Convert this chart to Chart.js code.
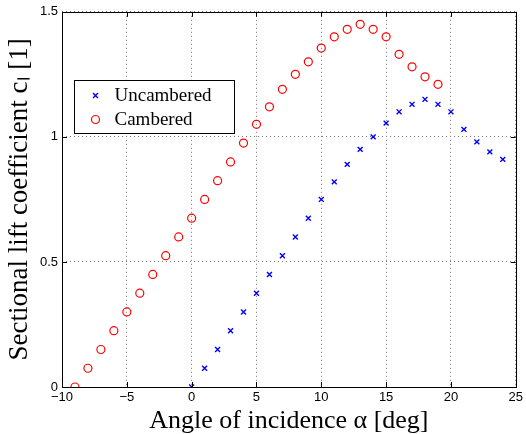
<!DOCTYPE html>
<html>
<head>
<meta charset="utf-8">
<script src="https://cdn.jsdelivr.net/npm/chart.js@4.4.0/dist/chart.umd.min.js"></script>
<style>
  body { margin: 0; background: #fff; }
  #wrap { width: 526px; height: 434px; }
</style>
</head>
<body>
<div id="wrap"><canvas id="liftChart" width="526" height="434"></canvas></div>
<script>
// angle of incidence [deg] and lift coefficient
const alphaUncambered = [0, 1, 2, 3, 4, 5, 6, 7, 8, 9, 10, 11, 12, 13, 14, 15, 16, 17, 18, 19, 20, 21, 22, 23, 24];
const clUncambered = [0, 0.075, 0.15, 0.225, 0.3, 0.375, 0.45, 0.525, 0.6, 0.675, 0.75, 0.82, 0.89, 0.95, 1.0, 1.055, 1.1, 1.13, 1.15, 1.13, 1.1, 1.03, 0.98, 0.94, 0.91];

const alphaCambered = [-9, -8, -7, -6, -5, -4, -3, -2, -1, 0, 1, 2, 3, 4, 5, 6, 7, 8, 9, 10, 11, 12, 13, 14, 15, 16, 17, 18, 19];
const clCambered = [0, 0.075, 0.15, 0.225, 0.3, 0.375, 0.45, 0.525, 0.6, 0.675, 0.75, 0.825, 0.9, 0.975, 1.05, 1.12, 1.19, 1.25, 1.3, 1.355, 1.4, 1.43, 1.45, 1.43, 1.4, 1.33, 1.28, 1.24, 1.21];

const xTicks = [-10, -5, 0, 5, 10, 15, 20, 25];
const yTicks = [0, 0.5, 1, 1.5];

function toPoints(xs, ys) {
    return xs.map((x, i) => ({ x: x, y: ys[i] }));
}

// frame, inward tick marks and legend box (matlab look)
const matlabAxes = {
    id: 'matlabAxes',
    afterDraw(chart) {
        const ctx = chart.ctx;
        const a = chart.chartArea;
        const xs = chart.scales.x, ys = chart.scales.y;
        ctx.save();
        ctx.strokeStyle = '#000';
        ctx.lineWidth = 1;
        ctx.beginPath();
        xTicks.forEach(v => {
            const px = Math.round(xs.getPixelForValue(v)) + 0.5;
            ctx.moveTo(px, a.bottom); ctx.lineTo(px, a.bottom - 5);
            ctx.moveTo(px, a.top); ctx.lineTo(px, a.top + 5);
        });
        yTicks.forEach(v => {
            const py = Math.round(ys.getPixelForValue(v)) + 0.5;
            ctx.moveTo(a.left, py); ctx.lineTo(a.left + 5, py);
            ctx.moveTo(a.right, py); ctx.lineTo(a.right - 5, py);
        });
        ctx.stroke();
        ctx.strokeRect(Math.round(a.left) + 0.5, Math.round(a.top) + 0.5,
                       Math.round(a.right - a.left), Math.round(a.bottom - a.top));

        // legend
        const lx = 74.5, ly = 80.5, lw = 160, lh = 53;
        ctx.fillStyle = '#fff';
        ctx.fillRect(lx, ly, lw, lh);
        ctx.strokeRect(lx, ly, lw, lh);
        ctx.font = '19px "Liberation Serif", serif';
        ctx.textBaseline = 'middle';
        ctx.textAlign = 'left';
        chart.data.datasets.forEach((ds, i) => {
            const cy = ly + 15 + i * 24;
            ctx.strokeStyle = ds.borderColor;
            ctx.lineWidth = ds.borderWidth;
            ctx.beginPath();
            if (ds.pointStyle === 'circle') {
                ctx.arc(lx + 21, cy, ds.pointRadius, 0, Math.PI * 2);
            } else {
                const r = ds.pointRadius * 0.7;
                ctx.moveTo(lx + 21 - r, cy - r); ctx.lineTo(lx + 21 + r, cy + r);
                ctx.moveTo(lx + 21 - r, cy + r); ctx.lineTo(lx + 21 + r, cy - r);
            }
            ctx.stroke();
            ctx.fillStyle = '#000';
            ctx.fillText(ds.label, lx + 40, cy + 1);
        });
        ctx.restore();
    }
};

new Chart(document.getElementById('liftChart'), {
    type: 'scatter',
    data: {
        datasets: [{
            label: 'Uncambered',
            data: toPoints(alphaUncambered, clUncambered),
            pointStyle: 'crossRot',
            pointRadius: 3.5,
            borderColor: '#0000ff',
            backgroundColor: '#0000ff',
            borderWidth: 1.4
        }, {
            label: 'Cambered',
            data: toPoints(alphaCambered, clCambered),
            pointStyle: 'circle',
            pointRadius: 4,
            borderColor: '#ff0000',
            backgroundColor: 'rgba(0,0,0,0)',
            borderWidth: 1.2
        }]
    },
    options: {
        responsive: false,
        animation: false,
        layout: { padding: { top: 10, right: 7, left: 0, bottom: 0 } },
        plugins: {
            legend: { display: false },
            tooltip: { enabled: false }
        },
        scales: {
            x: {
                type: 'linear',
                min: -10,
                max: 25,
                afterBuildTicks: s => { s.ticks = xTicks.map(v => ({ value: v })); },
                afterFit: s => { s.height = 47; },
                ticks: {
                    color: '#000',
                    padding: 3,
                    maxRotation: 0,
                    font: { family: '"Liberation Sans", Arial, sans-serif', size: 13 },
                    callback: v => String(v).replace('-', '\u2212')
                },
                grid: { color: '#777', drawTicks: false, lineWidth: 1 },
                border: { display: false, dash: [1, 3] },
                title: {
                    display: true,
                    text: 'Angle of incidence \u03b1 [deg]',
                    color: '#000',
                    padding: { top: 0, bottom: 0 },
                    font: { family: '"Liberation Serif", serif', size: 26, lineHeight: 1.0 }
                }
            },
            y: {
                type: 'linear',
                min: 0,
                max: 1.5,
                afterBuildTicks: s => { s.ticks = yTicks.map(v => ({ value: v })); },
                afterFit: s => { s.width = 62; },
                ticks: {
                    color: '#000',
                    padding: 4,
                    font: { family: '"Liberation Sans", Arial, sans-serif', size: 13 },
                    callback: v => String(v)
                },
                grid: { color: '#777', drawTicks: false, lineWidth: 1 },
                border: { display: false, dash: [1, 3] },
                title: {
                    display: true,
                    text: 'Sectional lift coefficient c\u2097 [1]',
                    color: '#000',
                    padding: { top: 6, bottom: 0 },
                    font: { family: '"Liberation Serif", serif', size: 27, lineHeight: 1.0 }
                }
            }
        }
    },
    plugins: [matlabAxes]
});
</script>
</body>
</html>
